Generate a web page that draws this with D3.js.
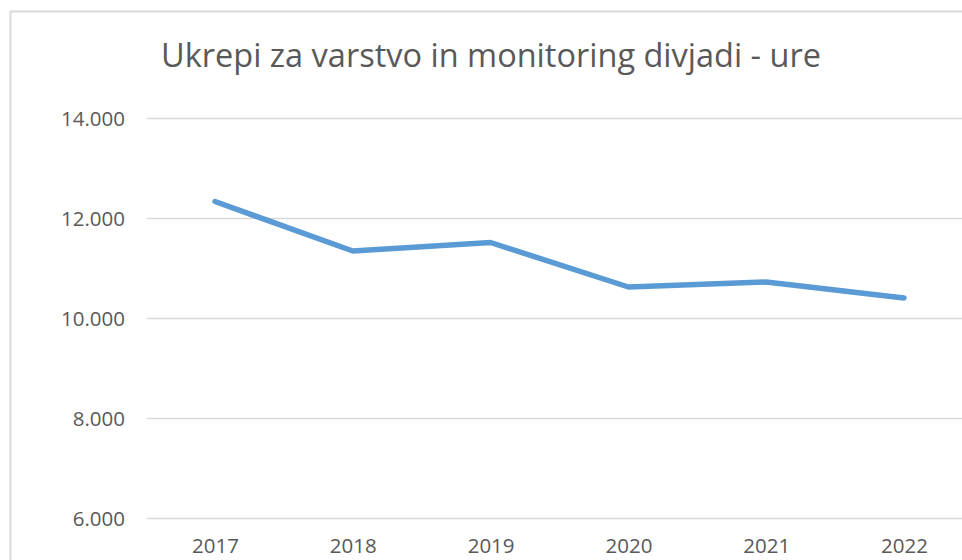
<!DOCTYPE html>
<html>
<head>
<meta charset="utf-8">
<script src="https://cdn.jsdelivr.net/npm/d3@7"></script>
<style>
  html, body { margin: 0; padding: 0; background: #fff; overflow: hidden; }
  svg { display: block; font-family: "Open Sans", sans-serif; }
</style>
</head>
<body>
<svg id="chart" width="962" height="560"></svg>
<script>
// Chart data.
const years = ['2017', '2018', '2019', '2020', '2021', '2022'];
const hours = [12340, 11350, 11520, 10630, 10730, 10410];
const yTicks = [6000, 8000, 10000, 12000, 14000];
const title = 'Ukrepi za varstvo in monitoring divjadi - ure';

const svg = d3.select('#chart');
const width = 962, height = 560;

// Chart area border (runs off the right and bottom edge).
svg.append('rect')
  .attr('x', 10.5).attr('y', 11.5)
  .attr('width', 1000).attr('height', 600)
  .attr('fill', '#fff')
  .attr('stroke', '#d9d9d9')
  .attr('stroke-width', 2);

// Scales.
const x = d3.scalePoint()
  .domain(years)
  .range([215, 904]);

const y = d3.scaleLinear()
  .domain([6000, 14000])
  .range([518.5, 118.5]);

// Gridlines.
svg.append('g')
  .selectAll('line')
  .data(yTicks)
  .join('line')
  .attr('x1', 147).attr('x2', width + 10)
  .attr('y1', d => y(d)).attr('y2', d => y(d))
  .attr('stroke', '#d9d9d9')
  .attr('stroke-width', 1.5);

// Y-Axis labels.
const fmt = d => d3.format(',')(d).replace(/,/g, '.');
const yAxis = svg.append('g')
  .attr('transform', 'translate(125,0)')
  .call(d3.axisLeft(y).tickValues(yTicks).tickFormat(fmt).tickSize(0).tickPadding(0));
yAxis.select('.domain').remove();
yAxis.selectAll('text')
  .attr('fill', '#595959')
  .attr('font-size', 20.5)
  .attr('font-family', '"Open Sans", sans-serif')
  .attr('dy', '0.36em');

// X-Axis labels.
const xAxis = svg.append('g')
  .attr('transform', 'translate(0,538)')
  .call(d3.axisBottom(x).tickSize(0).tickPadding(0));
xAxis.select('.domain').remove();
xAxis.selectAll('text')
  .attr('fill', '#595959')
  .attr('font-size', 20.5)
  .attr('font-family', '"Open Sans", sans-serif')
  .attr('dy', '0.72em');

// Line.
svg.append('path')
  .datum(hours)
  .attr('fill', 'none')
  .attr('stroke', '#5b9bd5')
  .attr('stroke-width', 5.5)
  .attr('stroke-linejoin', 'round')
  .attr('stroke-linecap', 'round')
  .attr('d', d3.line().x((d, i) => x(years[i])).y(d => y(d)));

// Title.
svg.append('text')
  .attr('x', 491)
  .attr('y', 67)
  .attr('text-anchor', 'middle')
  .attr('fill', '#595959')
  .attr('font-size', 32.5)
  .text(title);
</script>
</body>
</html>
